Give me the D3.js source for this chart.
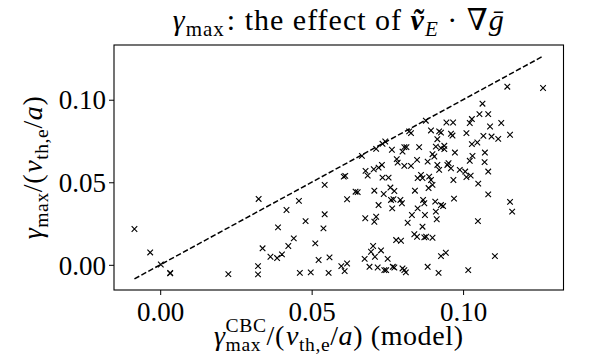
<!DOCTYPE html>
<html>
<head>
<meta charset="utf-8">
<script src="https://cdn.jsdelivr.net/npm/d3@7"></script>
<style>
  body { margin: 0; background: #fff; }
  svg text { font-family: "Liberation Serif", "DejaVu Serif", serif; white-space: pre; fill: #000; }
</style>
</head>
<body>
<svg id="chart" width="598" height="355"></svg>
<script>
// gamma_max (model, CBC) on x, gamma_max (simulation) on y, units of v_th,e/a
var xModel = [
  -0.0085, -0.0033, 0.0002, 0.0033, 0.0033, 0.0225, 0.0323, 0.0323, 0.0325, 0.0338,
  0.0364, 0.0386, 0.0389, 0.0402, 0.0417, 0.0423, 0.0441, 0.0458, 0.0461, 0.0480,
  0.0497, 0.0512, 0.0523, 0.0539, 0.0543, 0.0543, 0.0556, 0.0559, 0.0598, 0.0609,
  0.0617, 0.0606, 0.0611, 0.0617, 0.0645, 0.0652, 0.0666, 0.0675, 0.0677, 0.0678,
  0.0685, 0.0691, 0.0696, 0.0703, 0.0705, 0.0707, 0.0707, 0.0709, 0.0713, 0.0713,
  0.0718, 0.0721, 0.0721, 0.0729, 0.0732, 0.0734, 0.0743, 0.0734, 0.0738, 0.0740,
  0.0746, 0.0751, 0.0754, 0.0760, 0.0762, 0.0765, 0.0766, 0.0768, 0.0770, 0.0773,
  0.0773, 0.0779, 0.0781, 0.0784, 0.0793, 0.0795, 0.0798, 0.0800, 0.0800, 0.0806,
  0.0806, 0.0806, 0.0811, 0.0813, 0.0817, 0.0822, 0.0828, 0.0828, 0.0831, 0.0839,
  0.0841, 0.0848, 0.0848, 0.0850, 0.0850, 0.0855, 0.0861, 0.0866, 0.0866, 0.0868,
  0.0872, 0.0872, 0.0874, 0.0877, 0.0878, 0.0883, 0.0883, 0.0886, 0.0888, 0.0894,
  0.0894, 0.0899, 0.0899, 0.0899, 0.0905, 0.0908, 0.0910, 0.0910, 0.0913, 0.0915,
  0.0915, 0.0919, 0.0921, 0.0921, 0.0927, 0.0927, 0.0927, 0.0927, 0.0934, 0.0938,
  0.0938, 0.0943, 0.0945, 0.0952, 0.0948, 0.0960, 0.0965, 0.0960, 0.0967, 0.0968,
  0.0970, 0.0973, 0.0989, 0.1007, 0.1011, 0.1011, 0.1017, 0.1022, 0.1022, 0.1025,
  0.1029, 0.1029, 0.1031, 0.1047, 0.1049, 0.1050, 0.1054, 0.1064, 0.1067, 0.1071,
  0.1072, 0.1083, 0.1083, 0.1083, 0.1089, 0.1094, 0.1105, 0.1116, 0.1126, 0.1146,
  0.1155, 0.1155, 0.1162, 0.1264
];
var gammaMax = [
  0.0217, 0.0075, 0.0002, -0.0049, -0.0052, -0.0056, -0.0008, -0.0058, 0.0399, 0.0100,
  0.0049, 0.0041, 0.0227, 0.0063, 0.0332, 0.0114, 0.0160, 0.0387, -0.0049, 0.0265,
  -0.0046, 0.0130, 0.0029, 0.0221, 0.0306, 0.0484, -0.0049, 0.0045, -0.0008, -0.0038,
  0.0008, 0.0534, 0.0539, 0.0397, 0.0443, 0.0440, 0.0660, 0.0036, 0.0282, 0.0569,
  0.0540, -0.0012, 0.0079, 0.0114, 0.0579, 0.0261, 0.0449, 0.0049, 0.0702, 0.0291,
  -0.0016, 0.0362, 0.0589, 0.0087, 0.0605, 0.0733, 0.0747, 0.0528, 0.0429, -0.0032,
  -0.0032, 0.0036, 0.0528, 0.0468, 0.0393, 0.0697, 0.0342, -0.0012, 0.0397, 0.0447,
  -0.0016, 0.0150, 0.0640, 0.0619, 0.0393, 0.0146, 0.0373, 0.0686, -0.0022, 0.0713,
  0.0599, -0.0032, -0.0046, 0.0713, 0.0255, 0.0808, 0.0798, 0.0599, 0.0302, 0.0185,
  0.0449, 0.0170, 0.0636, 0.0342, 0.0525, 0.0713, 0.0545, 0.0525, 0.0231, 0.0393,
  0.0373, 0.0166, 0.0302, 0.0873, 0.0170, 0.0625, -0.0012, 0.0465, 0.0534, 0.0514,
  0.0814, 0.0670, 0.0484, 0.0164, 0.0656, 0.0383, 0.0716, 0.0322, 0.0276, 0.0605,
  0.0761, -0.0049, 0.0575, 0.0808, 0.0801, 0.0707, 0.0362, 0.0053, 0.0356, 0.0721,
  0.0701, 0.0073, 0.0862, 0.0616, 0.0605, 0.0794, 0.0783, 0.0585, 0.0862, 0.0514,
  0.0401, 0.0680, 0.0575, 0.0565, 0.0798, 0.0531, -0.0032, 0.0859, 0.0630, 0.0540,
  0.0883, 0.0731, 0.0660, 0.0741, 0.0265, 0.0492, 0.0913, 0.0976, 0.0781, 0.0622,
  0.0680, 0.0913, 0.0565, 0.0427, 0.0838, 0.0777, 0.0053, 0.0763, 0.0859, 0.1079,
  0.0788, 0.0381, 0.0322, 0.1071
];
var diagExtent = [-0.0085, 0.1265];
var tickValues = [0.00, 0.05, 0.10];
var axisDomain = [-0.01525, 0.13315];

var svg = d3.select("#chart");
var plotL = 114, plotR = 563.5, plotT = 45, plotB = 290;

var x = d3.scaleLinear().domain(axisDomain).range([plotL, plotR]);
var y = d3.scaleLinear().domain(axisDomain).range([plotB, plotT]);

//axes
var xAxis = d3.axisBottom(x).tickValues(tickValues).tickFormat(d3.format(".2f")).tickSizeOuter(0).tickSize(5).tickPadding(7);
var yAxis = d3.axisLeft(y).tickValues(tickValues).tickFormat(d3.format(".2f")).tickSizeOuter(0).tickSize(5).tickPadding(3);

var gx = svg.append("g").attr("transform", "translate(0," + plotB + ")").call(xAxis);
var gy = svg.append("g").attr("transform", "translate(" + plotL + ",0)").call(yAxis);
[gx, gy].forEach(function(g) {
    g.attr("font-family", null).attr("font-size", null);
    g.select(".domain").remove();
    g.selectAll("line").attr("stroke", "#000").attr("stroke-width", 1);
    g.selectAll("text").style("font-size", "27px");
});
gy.selectAll("text").attr("dy", "0.34em");

//frame
svg.append("rect")
    .attr("x", plotL).attr("y", plotT)
    .attr("width", plotR - plotL).attr("height", plotB - plotT)
    .attr("fill", "none").attr("stroke", "#000").attr("stroke-width", 1.1);

//diagonal y = x
svg.append("line")
    .attr("x1", x(diagExtent[0])).attr("y1", y(diagExtent[0]))
    .attr("x2", x(diagExtent[1])).attr("y2", y(diagExtent[1]))
    .attr("stroke", "#000").attr("stroke-width", 1.5)
    .attr("stroke-dasharray", "5.5,2.4");

//x markers
var r = 2.8;
svg.append("g").selectAll("path")
    .data(d3.range(xModel.length))
    .enter().append("path")
    .attr("d", function(i) {
        var cx = x(xModel[i]), cy = y(gammaMax[i]);
        return "M" + (cx - r) + "," + (cy - r) + "L" + (cx + r) + "," + (cy + r) +
               "M" + (cx - r) + "," + (cy + r) + "L" + (cx + r) + "," + (cy - r);
    })
    .attr("stroke", "#000").attr("stroke-width", 1.1).attr("fill", "none");

//math-ish labels laid out piece by piece
function mathText(g, parts, size, spacing) {
    var cx = 0;
    function piece(t, px, dy, fs, it, bold) {
        var el = g.append("text")
            .attr("x", px).attr("y", dy)
            .style("font-size", fs + "px")
            .style("font-style", it ? "italic" : "normal")
            .style("font-weight", bold ? "bold" : "normal")
            .style("letter-spacing", (spacing || 0) + "px")
            .text(t);
        return el.node().getComputedTextLength();
    }
    parts.forEach(function(p) {
        if (p.sup !== undefined) {
            var w1 = piece(p.sup, cx, -size * 0.45, size * 0.7, false);
            var w2 = piece(p.sub, cx, size * 0.22, size * 0.7, false);
            cx += Math.max(w1, w2);
        } else {
            var fs = size * (p.s || 1);
            cx += piece(p.t, cx, (p.dy || 0) * size, fs, p.it, p.b) + (p.gap || 0);
        }
    });
    return cx;
}

//title
var title = svg.append("g");
var tw = mathText(title, [
    {t: "γ", it: true},
    {t: "max", s: 0.7, dy: 0.2, gap: 2},
    {t: ": the effect of "},
    {t: "v\u0303", it: true, b: true},
    {t: "E", it: true, s: 0.7, dy: 0.2},
    {t: " · ∇"},
    {t: "g\u0304", it: true}
], 30, 1);
title.attr("transform", "translate(" + ((plotL + plotR) / 2 - tw / 2) + ",30)");

//x label
var xl = svg.append("g");
var xw = mathText(xl, [
    {t: "γ", it: true},
    {sup: "CBC", sub: "max"},
    {t: "/(", gap: 1},
    {t: "v", it: true},
    {t: "th,e", s: 0.7, dy: 0.2},
    {t: "/"},
    {t: "a", it: true},
    {t: ") (model)"}
], 28, 0.6);
xl.attr("transform", "translate(" + ((plotL + plotR) / 2 - xw / 2) + ",345)");

//y label
var yl = svg.append("g");
var yw = mathText(yl, [
    {t: "γ", it: true},
    {t: "max", s: 0.7, dy: 0.2},
    {t: "/(", gap: 1},
    {t: "v", it: true},
    {t: "th,e", s: 0.7, dy: 0.2},
    {t: "/"},
    {t: "a", it: true},
    {t: ")"}
], 28, 0.6);
yl.attr("transform", "translate(42," + ((plotT + plotB) / 2 + yw / 2) + ") rotate(-90)");
</script>
</body>
</html>
